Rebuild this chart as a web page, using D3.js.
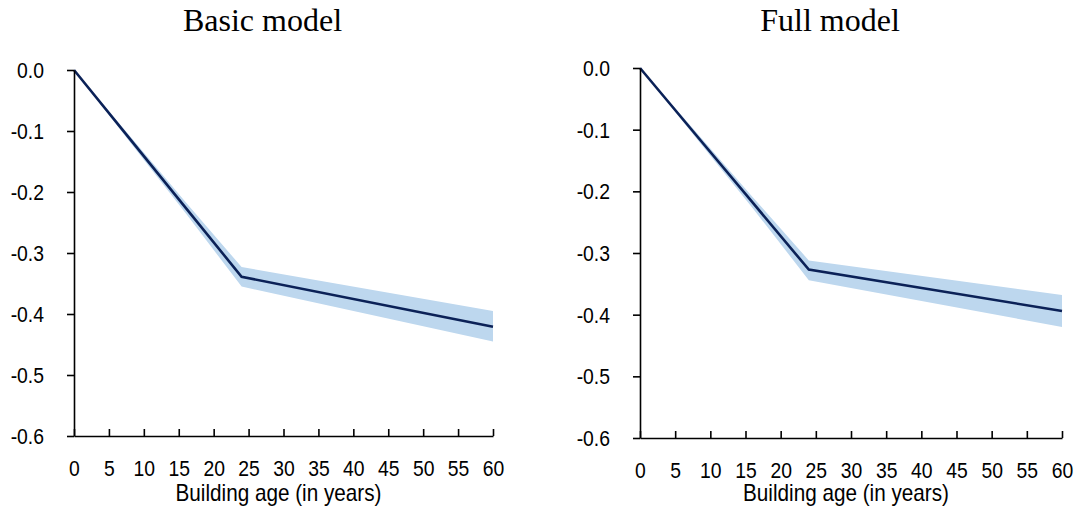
<!DOCTYPE html>
<html>
<head>
<meta charset="utf-8">
<script src="https://cdn.jsdelivr.net/npm/d3@7"></script>
<style>
  body { margin: 0; background: #fff; }
  svg { display: block; }
</style>
</head>
<body>
<svg id="chart" width="1078" height="510"></svg>
<script>
// Data
const ages = [0, 8, 16, 24, 60];

const basicEst  = [0, -0.113, -0.226, -0.339, -0.421];
const basicLow  = [0, -0.118, -0.235, -0.355, -0.445];
const basicHigh = [0, -0.108, -0.217, -0.323, -0.395];

const fullEst  = [0, -0.109, -0.218, -0.327, -0.394];
const fullLow  = [0, -0.114, -0.227, -0.344, -0.420];
const fullHigh = [0, -0.104, -0.209, -0.312, -0.368];

const xTicks = [0, 5, 10, 15, 20, 25, 30, 35, 40, 45, 50, 55, 60];
const yTicks = [0, -0.1, -0.2, -0.3, -0.4, -0.5, -0.6];

const titles = ["Basic model", "Full model"];
const xLabel = "Building age (in years)";

const sx = 0.88; // labels in the picture are horizontally condensed

const svg = d3.select("#chart");

function drawPanel(title, est, low, high, xr, yr) {
  const x = d3.scaleLinear().domain([0, 60]).range(xr);
  const y = d3.scaleLinear().domain([-0.6, 0]).range(yr);
  const g = svg.append("g");

  const rows = ages.map((a, i) => ({ age: a, est: est[i], low: low[i], high: high[i] }));

  // confidence band
  g.append("path")
    .datum(rows)
    .attr("fill", "#bdd7ee")
    .attr("d", d3.area().x(d => x(d.age)).y0(d => y(d.low)).y1(d => y(d.high)));

  // estimate
  g.append("path")
    .datum(rows)
    .attr("fill", "none")
    .attr("stroke", "#0b2157")
    .attr("stroke-width", 2.6)
    .attr("d", d3.line().x(d => x(d.age)).y(d => y(d.est)));

  // y axis
  const ya = g.append("g")
    .attr("transform", `translate(${xr[0]},0)`)
    .call(d3.axisLeft(y).tickValues(yTicks).tickSizeInner(7).tickSizeOuter(0).tickFormat(d => d.toFixed(1)));
  ya.selectAll("text")
    .attr("x", -30 / sx)
    .attr("dy", "0.34em")
    .attr("transform", `scale(${sx},1)`);

  // x axis, ticks point up into the plot
  const xa = g.append("g")
    .attr("transform", `translate(0,${yr[0]})`)
    .call(d3.axisBottom(x).tickValues(xTicks).tickSizeInner(-7).tickSizeOuter(0));
  xa.selectAll("text")
    .attr("y", 40)
    .attr("dy", 0)
    .attr("transform", `scale(${sx},1)`);

  g.selectAll(".domain, .tick line")
    .attr("stroke", "#000")
    .attr("stroke-width", 1.6);
  g.selectAll(".tick text")
    .attr("fill", "#000")
    .style("font-family", "'Liberation Sans', Arial, sans-serif")
    .style("font-size", "22px");

  const cx = (xr[0] + xr[1]) / 2;

  // x axis title
  g.append("g")
    .attr("transform", `translate(${cx - 5},501)`)
    .append("text")
    .attr("transform", "scale(0.9,1)")
    .attr("text-anchor", "middle")
    .style("font-family", "'Liberation Sans', Arial, sans-serif")
    .style("font-size", "23px")
    .text(xLabel);

  // panel title
  g.append("text")
    .attr("x", cx - 21)
    .attr("y", 31)
    .attr("text-anchor", "middle")
    .style("font-family", "'Liberation Serif', 'Times New Roman', serif")
    .style("font-size", "32px")
    .text(title);
}

drawPanel(titles[0], basicEst, basicLow, basicHigh, [74, 493], [436, 70]);
drawPanel(titles[1], fullEst, fullLow, fullHigh, [640, 1062], [438, 68]);
</script>
</body>
</html>
